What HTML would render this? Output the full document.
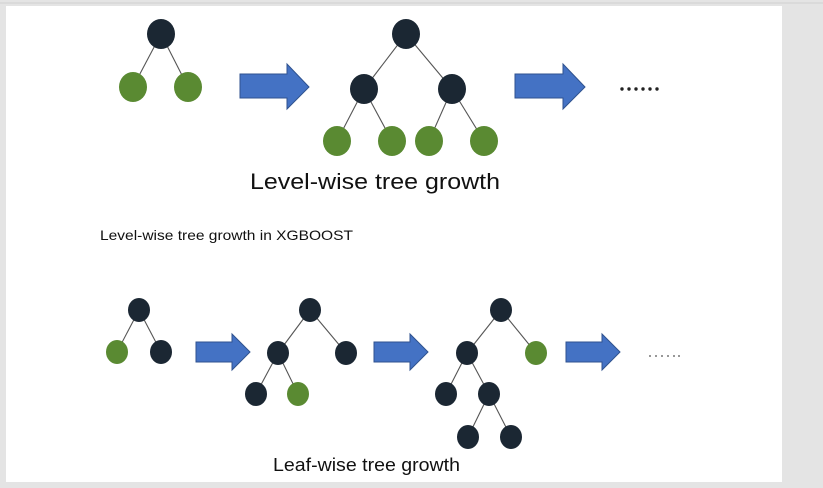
<!DOCTYPE html>
<html><head><meta charset="utf-8"><style>
html,body{margin:0;padding:0;background:#e6e6e6;}
svg{display:block;}
</style></head><body>
<svg width="823" height="488" xmlns="http://www.w3.org/2000/svg">
<rect x="0" y="0" width="823" height="488" fill="#e4e4e4"/>
<rect x="6" y="6" width="776" height="476" fill="#ffffff"/>
<line x1="0" y1="3" x2="823" y2="3" stroke="#d0d0d0" stroke-width="1"/>
<g stroke="#555" stroke-width="1.1">
<line x1="161" y1="34" x2="133" y2="87"/><line x1="161" y1="34" x2="188" y2="87"/>
<line x1="406" y1="34" x2="364" y2="89"/><line x1="406" y1="34" x2="452" y2="89"/>
<line x1="364" y1="89" x2="337" y2="141"/><line x1="364" y1="89" x2="392" y2="141"/>
<line x1="452" y1="89" x2="429" y2="141"/><line x1="452" y1="89" x2="484" y2="141"/>
<line x1="139" y1="310" x2="117" y2="352"/><line x1="139" y1="310" x2="161" y2="352"/>
<line x1="310" y1="310" x2="278" y2="353"/><line x1="310" y1="310" x2="346" y2="353"/>
<line x1="278" y1="353" x2="256" y2="394"/><line x1="278" y1="353" x2="298" y2="394"/>
<line x1="501" y1="310" x2="467" y2="353"/><line x1="501" y1="310" x2="536" y2="353"/>
<line x1="467" y1="353" x2="446" y2="394"/><line x1="467" y1="353" x2="489" y2="394"/>
<line x1="489" y1="394" x2="468" y2="437"/><line x1="489" y1="394" x2="511" y2="437"/>
</g>
<g fill="#1b2733">
<ellipse cx="161" cy="34" rx="14" ry="15"/>
<ellipse cx="406" cy="34" rx="14" ry="15"/>
<ellipse cx="364" cy="89" rx="14" ry="15"/>
<ellipse cx="452" cy="89" rx="14" ry="15"/>
<ellipse cx="139" cy="310" rx="11" ry="12"/>
<ellipse cx="161" cy="352" rx="11" ry="12"/>
<ellipse cx="310" cy="310" rx="11" ry="12"/>
<ellipse cx="278" cy="353" rx="11" ry="12"/>
<ellipse cx="346" cy="353" rx="11" ry="12"/>
<ellipse cx="256" cy="394" rx="11" ry="12"/>
<ellipse cx="501" cy="310" rx="11" ry="12"/>
<ellipse cx="467" cy="353" rx="11" ry="12"/>
<ellipse cx="446" cy="394" rx="11" ry="12"/>
<ellipse cx="489" cy="394" rx="11" ry="12"/>
<ellipse cx="468" cy="437" rx="11" ry="12"/>
<ellipse cx="511" cy="437" rx="11" ry="12"/>
</g>
<g fill="#5a8a32">
<ellipse cx="133" cy="87" rx="14" ry="15"/>
<ellipse cx="188" cy="87" rx="14" ry="15"/>
<ellipse cx="337" cy="141" rx="14" ry="15"/>
<ellipse cx="392" cy="141" rx="14" ry="15"/>
<ellipse cx="429" cy="141" rx="14" ry="15"/>
<ellipse cx="484" cy="141" rx="14" ry="15"/>
<ellipse cx="117" cy="352" rx="11" ry="12"/>
<ellipse cx="298" cy="394" rx="11" ry="12"/>
<ellipse cx="536" cy="353" rx="11" ry="12"/>
</g>
<g fill="#4472c4" stroke="#2f528f" stroke-width="1">
<polygon points="240,74 287,74 287,64 309,87 287,109 287,98 240,98"/>
<polygon points="515,74 563,74 563,64 585,87 563,109 563,98 515,98"/>
<polygon points="196,342 232,342 232,334 250,352 232,370 232,362 196,362"/>
<polygon points="374,342 410,342 410,334 428,352 410,370 410,362 374,362"/>
<polygon points="566,342 602,342 602,334 620,352 602,370 602,362 566,362"/>
</g>
<g fill="#222">
<circle cx="622" cy="89" r="1.7"/><circle cx="629" cy="89" r="1.7"/><circle cx="636" cy="89" r="1.7"/>
<circle cx="643" cy="89" r="1.7"/><circle cx="650" cy="89" r="1.7"/><circle cx="657" cy="89" r="1.7"/>
</g>
<g fill="#777">
<circle cx="650" cy="356" r="1"/><circle cx="656" cy="356" r="1"/><circle cx="662" cy="356" r="1"/>
<circle cx="668" cy="356" r="1"/><circle cx="674" cy="356" r="1"/><circle cx="679" cy="356" r="1"/>
</g>
<text x="250" y="189" font-family="Liberation Sans, sans-serif" font-size="22" fill="#111" textLength="250" lengthAdjust="spacingAndGlyphs">Level-wise tree growth</text>
<text x="100" y="240" font-family="Liberation Sans, sans-serif" font-size="14" fill="#111" textLength="253" lengthAdjust="spacingAndGlyphs">Level-wise tree growth in XGBOOST</text>
<text x="273" y="471" font-family="Liberation Sans, sans-serif" font-size="18" fill="#111" textLength="187" lengthAdjust="spacingAndGlyphs">Leaf-wise tree growth</text>
</svg>
</body></html>
